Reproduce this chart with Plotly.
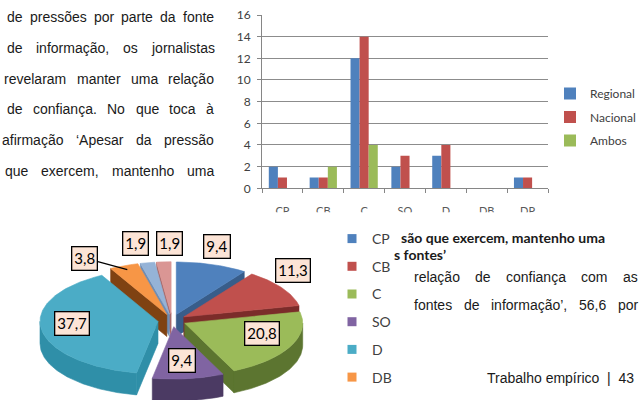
import numpy as np
import plotly.graph_objects as go

W, H = 639, 400

# ---------------- data ----------------
categories = ["CP", "CB", "C", "SO", "D", "DB", "DP"]
regional = [2, 1, 12, 2, 3, 0, 1]
nacional = [1, 1, 14, 3, 4, 0, 1]
ambos = [0, 2, 4, 0, 0, 0, 0]
series_names = ["Regional", "Nacional", "Ambos"]
y_tick_values = [0, 2, 4, 6, 8, 10, 12, 14, 16]

pie_labels = ["CP", "CB", "C", "SO", "D", "DB", "DP", "NR"]
pie_values = [9.4, 11.3, 20.8, 9.4, 37.7, 3.8, 1.9, 1.9]
pie_value_text = ["9,4", "11,3", "20,8", "9,4", "37,7", "3,8", "1,9", "1,9"]

left_text_lines = [
    "de pressões por parte da fonte",
    "de informação, os jornalistas",
    "revelaram manter uma relação",
    "de confiança. No que toca à",
    "afirmação ‘Apesar da pressão",
    "que exercem, mantenho uma",
]
right_text_lines = [
    "relação de confiança com as",
    "fontes de informação’, 56,6 por",
]
caption_lines = ["são que exercem, mantenho uma", "s fontes’"]
footer_text = "Trabalho empírico  |  43"

# ---------------- styles / layout helpers ----------------
bar_colors = ["#4F81BD", "#C0504D", "#9BBB59"]
pie_top_colors = ["#4F81BD", "#C0504D", "#9BBB59", "#8064A2", "#4BACC6", "#F79646", "#95B3D7", "#DA9694"]
pie_side_colors = ["#385D8A", "#7B2C2A", "#5C7530", "#4B3A63", "#2F8FA8", "#7F4212", "#6E8DB5", "#A86868"]

BODY_FONT = "Liberation Sans, Arial, sans-serif"
BODY_SIZE = 14
CHART_FONT = "Lato, Open Sans, sans-serif"

# Arial / Liberation Sans advance widths (per 1000 em) for justification
ADV = {c: 556 for c in "abdeghnopquãõàáâçé0123456789"}
ADV.update({"c": 500, "ç": 500, "k": 500, "s": 500, "v": 500, "x": 500, "y": 500, "z": 500,
            "f": 278, "t": 278, "i": 222, "í": 278, "j": 222, "l": 222, "r": 333, "m": 833, "w": 722,
            "A": 667, "N": 722, "T": 611, ",": 278, ".": 278, "‘": 222, "’": 222, "|": 260, " ": 278})


def word_width(w, size=BODY_SIZE):
    return sum(ADV.get(ch, 556) for ch in w) * size / 1000.0


def px(x):
    return x / W


def py(y):
    return 1 - y / H


fig = go.Figure()

# ---------------- bar chart ----------------
for name, vals, col in zip(series_names, [regional, nacional, ambos], bar_colors):
    fig.add_trace(go.Bar(x=categories, y=vals, name=name, marker=dict(color=col, line=dict(width=0)),
                         legend="legend", legendgroup=name, xaxis="x", yaxis="y", hoverinfo="skip"))

# ---------------- 3D exploded pie (drawn on hidden axes x2/y2, 1 unit = 1 px) ----------------
cx, cy = 172.0, 400 - 320.4
rx, ry, depth, explode = 118.0, 52.4, 22.0, 0.12
total = float(sum(pie_values))
edges = np.radians(np.concatenate([[0], np.cumsum(pie_values)]) / total * 360.0)


def arc(c, t0, t1):
    n = max(3, int(np.degrees(t1 - t0)) + 2)
    t = np.linspace(t0, t1, n)
    return c[0] + rx * np.sin(t), c[1] + ry * np.cos(t)


walls = []
tops = []
for i in range(len(pie_values)):
    a0, a1 = edges[i], edges[i + 1]
    m = (a0 + a1) / 2
    c = (cx + explode * rx * np.sin(m), cy + explode * ry * np.cos(m))
    for a, n_ang in ((a0, a0 - np.pi / 2), (a1, a1 + np.pi / 2)):
        if np.cos(n_ang) < 0:
            ex, ey = c[0] + rx * np.sin(a), c[1] + ry * np.cos(a)
            xs = [c[0], ex, ex, c[0], c[0]]
            ys = [c[1], ey, ey - depth, c[1] - depth, c[1]]
            walls.append((-(c[1] + ey) / 2, xs, ys, pie_side_colors[i]))
    lo, hi = max(a0, np.pi / 2), min(a1, 1.5 * np.pi)
    if hi > lo:
        ax_, ay_ = arc(c, lo, hi)
        xs = list(ax_) + list(ax_[::-1]) + [ax_[0]]
        ys = list(ay_) + list((ay_ - depth)[::-1]) + [ay_[0]]
        walls.append((-np.mean(ay_) + 5, xs, ys, pie_side_colors[i]))
    ax_, ay_ = arc(c, a0, a1)
    tops.append(([c[0]] + list(ax_) + [c[0]], [c[1]] + list(ay_) + [c[1]], pie_top_colors[i]))

for _, xs, ys, col in sorted(walls, key=lambda w: w[0]):
    fig.add_trace(go.Scatter(x=xs, y=ys, mode="lines", fill="toself", fillcolor=col,
                             line=dict(color=col, width=0.6), xaxis="x2", yaxis="y2",
                             showlegend=False, hoverinfo="skip"))
for xs, ys, col in tops:
    fig.add_trace(go.Scatter(x=xs, y=ys, mode="lines", fill="toself", fillcolor=col,
                             line=dict(color=col, width=0.6), xaxis="x2", yaxis="y2",
                             showlegend=False, hoverinfo="skip"))

# pie legend entries
for lab, col in zip(pie_labels, pie_top_colors):
    fig.add_trace(go.Scatter(x=[None], y=[None], mode="markers", name=lab,
                             marker=dict(symbol="square", size=9, color=col),
                             legend="legend2", legendgroup="p_" + lab, xaxis="x2", yaxis="y2"))

annotations = []

# pie value labels (box centres in page pixels)
label_px = [(217, 246), (293, 270), (262, 333), (182, 360), (72, 323), (85, 258), (135, 243), (169, 243)]
for i, (txt, (lx, ly)) in enumerate(zip(pie_value_text, label_px)):
    common = dict(text=txt, xref="x2", yref="y2", font=dict(family=CHART_FONT, size=15, color="#000000"),
                  bgcolor="#FCE4D6", bordercolor="#000000", borderwidth=1.3, borderpad=2)
    if pie_labels[i] == "DB":
        m = (edges[i] + edges[i + 1]) / 2
        tx = cx + (1 + explode) * rx * np.sin(m) * 0.93
        ty = cy + (1 + explode) * ry * np.cos(m) * 0.93
        annotations.append(dict(x=tx, y=ty, ax=lx - tx, ay=ly - (400 - ty), showarrow=True,
                                arrowhead=0, arrowwidth=1.3, arrowcolor="#000000", **common))
    else:
        annotations.append(dict(x=lx, y=400 - ly, showarrow=False, **common))


# ---------------- page text (justified word by word) ----------------
def add_justified(line, x0, x1, yy):
    words = line.split(" ")
    widths = [word_width(w) for w in words]
    gap = (x1 - x0 - sum(widths)) / max(1, len(words) - 1)
    x = x0
    for w, wd in zip(words, widths):
        annotations.append(dict(x=px(x), y=py(yy), xref="paper", yref="paper", text=w,
                                showarrow=False, xanchor="left", yanchor="middle",
                                font=dict(family=BODY_FONT, size=BODY_SIZE, color="#1a1a1a")))
        x += wd + gap


left_geom = [(5, 17), (5, 48), (2, 79), (5, 109), (0, 140), (3, 171)]
for line, (x0, yy) in zip(left_text_lines, left_geom):
    add_justified(line, x0, 212, yy)
for line, yy in zip(right_text_lines, [277, 305]):
    add_justified(line, 412, 636, yy)

for line, (x0, yy) in zip(caption_lines, [(399, 237), (392, 255)]):
    annotations.append(dict(x=px(x0), y=py(yy), xref="paper", yref="paper", text="<b>" + line + "</b>",
                            showarrow=False, xanchor="left", yanchor="middle",
                            font=dict(family=CHART_FONT, size=14, color="#1a1a1a")))
annotations.append(dict(x=px(636), y=py(378), xref="paper", yref="paper", text=footer_text,
                        showarrow=False, xanchor="right", yanchor="middle",
                        font=dict(family=BODY_FONT, size=BODY_SIZE, color="#1a1a1a")))

fig.update_layout(
    width=W, height=H, margin=dict(l=0, r=0, t=0, b=0, autoexpand=False),
    paper_bgcolor="white", plot_bgcolor="white",
    barmode="group", bargap=0.333, bargroupgap=0,
    showlegend=True,
    xaxis=dict(domain=[px(262), px(548)], showline=True, linecolor="#868686", linewidth=1,
               ticks="outside", tickson="boundaries", ticklen=4, tickcolor="#868686",
               tickfont=dict(family=CHART_FONT, size=11, color="#595959"), ticklabelstandoff=12,
               showgrid=False, zeroline=False, fixedrange=True, automargin=False),
    yaxis=dict(domain=[py(188.3), py(15)], range=[0, 16], tickvals=y_tick_values,
               showgrid=True, gridcolor="#8C8C8C", gridwidth=1, showline=True, linecolor="#868686",
               ticks="outside", ticklen=4, tickcolor="#868686", ticklabelstandoff=4,
               tickfont=dict(family=CHART_FONT, size=12, color="#404040"), zeroline=False,
               fixedrange=True, automargin=False),
    xaxis2=dict(domain=[0, px(330)], range=[0, 330], visible=False, fixedrange=True),
    yaxis2=dict(domain=[0, py(212)], range=[0, 188], visible=False, fixedrange=True),
    legend=dict(x=px(550), y=py(79), xanchor="left", yanchor="top", traceorder="grouped",
                tracegroupgap=4.5, font=dict(family=CHART_FONT, size=12, color="#404040"),
                bgcolor="rgba(0,0,0,0)", itemwidth=30),
    legend2=dict(x=px(332), y=py(223), xanchor="left", yanchor="top", traceorder="grouped",
                 tracegroupgap=6.5, font=dict(family=CHART_FONT, size=14, color="#404040"),
                 bgcolor="rgba(0,0,0,0)", itemwidth=30),
    annotations=annotations,
    shapes=[dict(type="rect", xref="paper", yref="paper", x0=px(250), x1=px(560), y0=py(224), y1=py(212.3),
                 fillcolor="white", line=dict(width=0), layer="above")],
)

fig.write_html("out.html", config={"displayModeBar": False},
               post_script="document.body.style.margin='0';document.body.style.overflow='hidden';")
